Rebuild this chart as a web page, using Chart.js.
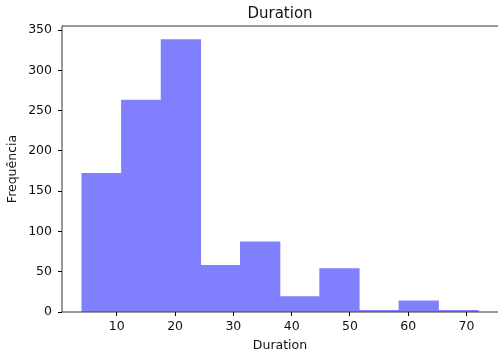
<!DOCTYPE html>
<html>
<head>
<meta charset="utf-8">
<script src="https://cdn.jsdelivr.net/npm/chart.js@4/dist/chart.umd.min.js"></script>
<style>
 html,body{margin:0;padding:0;background:#fff;}
 #wrap{width:498px;height:358px;}
</style>
</head>
<body>
<div id="wrap"><canvas id="hist" width="498" height="358"></canvas></div>
<script>
// histogram bins: edges and counts
const binEdges=[4,10.8,17.6,24.4,31.2,38,44.8,51.6,58.4,65.2,72];
const counts=[172,263,338,58,87,19,54,2,14,2];
const xTicks=[10,20,30,40,50,60,70];
const yTicks=[0,50,100,150,200,250,300,350];

const points=counts.map((c,i)=>({x:(binEdges[i]+binEdges[i+1])/2,y:c}));

// left, top and bottom spines (right one falls off the canvas)
const frame={
 id:"frame",
 afterDraw(chart){
  const a=chart.chartArea,ctx=chart.ctx;
  ctx.save();
  ctx.strokeStyle="#000";
  ctx.lineWidth=0.8;
  ctx.beginPath();
  ctx.moveTo(a.right+1,a.top);
  ctx.lineTo(a.left,a.top);
  ctx.lineTo(a.left,a.bottom);
  ctx.lineTo(a.right+1,a.bottom);
  ctx.stroke();
  ctx.restore();
 }
};

Chart.defaults.font.family="'DejaVu Sans', sans-serif";
Chart.defaults.color="#111";

new Chart(document.getElementById("hist"),{
 type:"bar",
 data:{datasets:[{
  data:points,
  backgroundColor:"#8080ff",
  borderWidth:0,
  barPercentage:1,
  categoryPercentage:1
 }]},
 options:{
  responsive:false,
  animation:false,
  layout:{padding:0},
  plugins:{
   legend:{display:false},
   tooltip:{enabled:false},
   title:{display:true,text:"Duration",fullSize:false,
    font:{size:15,weight:"normal"},padding:{top:5,bottom:3}}
  },
  scales:{
   x:{
    type:"linear",
    offset:false,
    min:0.6,max:75.4,
    afterBuildTicks(s){s.ticks=xTicks.map(v=>({value:v}));},
    afterFit(s){s.height=46;},
    grid:{offset:false,drawOnChartArea:false,drawTicks:true,tickLength:4,color:"#000"},
    border:{display:false},
    ticks:{font:{size:12.5},padding:3,maxRotation:0},
    title:{display:true,text:"Duration",font:{size:12.5},padding:{top:0,bottom:5}}
   },
   y:{
    min:0,max:355,
    afterBuildTicks(s){s.ticks=yTicks.map(v=>({value:v}));},
    afterFit(s){s.width=62;},
    grid:{drawOnChartArea:false,drawTicks:true,tickLength:4,color:"#000"},
    border:{display:false},
    ticks:{font:{size:12.5},padding:6},
    title:{display:true,text:"Frequência",font:{size:12.5},padding:{top:5,bottom:0}}
   }
  }
 },
 plugins:[frame]
});
</script>
</body>
</html>
